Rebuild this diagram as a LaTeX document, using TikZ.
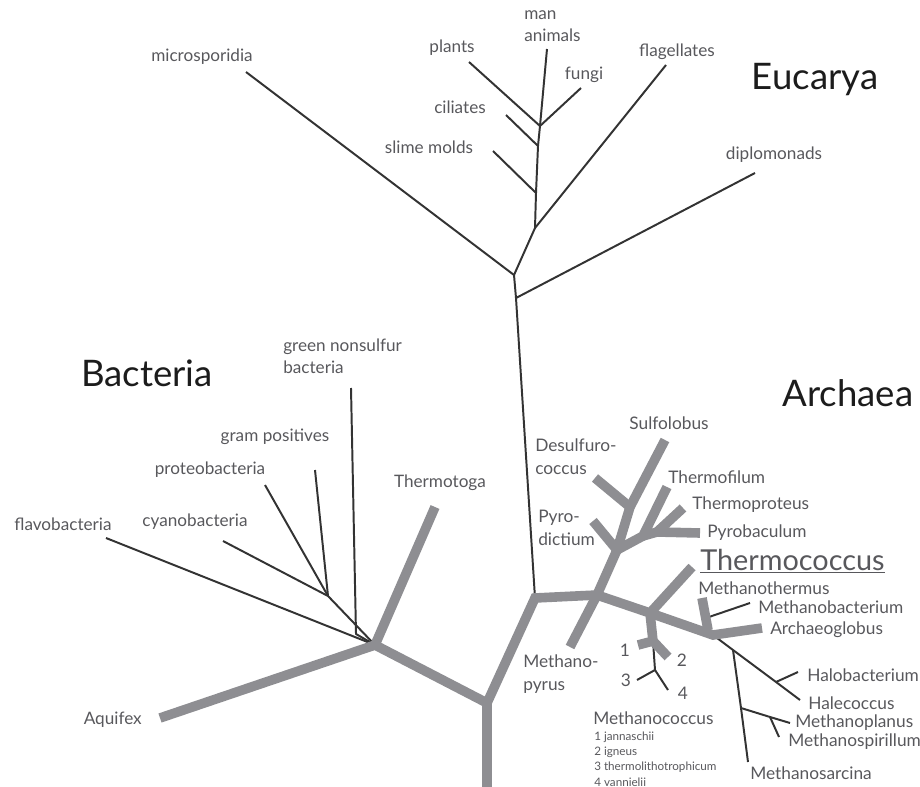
\documentclass[tikz,border=0pt]{standalone}
\usepackage{fontspec}
\setmainfont{Lato}
\usetikzlibrary{positioning}
\usepackage{xcolor}
\definecolor{treeGray}{HTML}{8E8E92}
\definecolor{lineDark}{HTML}{333333}
\definecolor{labelGray}{HTML}{58585C}
\definecolor{domainInk}{HTML}{1C1C1C}
\tikzset{
graybr/.style={draw=treeGray, line width=2.4mm},
thinbr/.style={draw=lineDark, line width=1.4pt, line join=round},
taxon/.style={text=labelGray, inner sep=0pt, font=\fontsize{12.2}{14.6}\selectfont},
taxontwo/.style={taxon, anchor=west, align=left, font=\fontsize{12.2}{15.5}\selectfont},
archtaxon/.style={taxon, font=\fontsize{12.3}{14.8}\selectfont},
archtwo/.style={archtaxon, anchor=west, align=left, font=\fontsize{12.3}{16.5}\selectfont},
domainname/.style={text=domainInk, inner sep=0pt, font=\fontsize{26}{30}\selectfont},
spnote/.style={taxon, anchor=west, font=\fontsize{8.3}{10}\selectfont}
}

\begin{document}
\begin{tikzpicture}[x=0.025cm,y=-0.025cm]
\useasboundingbox (0,0) rectangle (920,787);

% junctions of the tree
\coordinate (root) at (487,703);
\coordinate (rootbot) at (487,795);
\coordinate (bac) at (375,645);
\coordinate (arc) at (535,598);
\coordinate (euk0) at (516,298);
\coordinate (euk1) at (514,275);
\coordinate (euk2) at (535,228);
\coordinate (euk3) at (536,193);
\coordinate (euk4) at (538,146);
\coordinate (euk5) at (540,126);
\coordinate (bac1) at (328,596);
\coordinate (gns) at (356,634);
\coordinate (cren) at (597,595);
\coordinate (cren1) at (617,550);
\coordinate (cren2) at (630,507);
\coordinate (cren3) at (643,536);
\coordinate (cren4) at (657,532);
\coordinate (eury) at (650,613);
\coordinate (mcoc) at (653,641);
\coordinate (mcoc34) at (655,670);
\coordinate (mthm) at (708,630);
\coordinate (mthb) at (706,618);
\coordinate (halo) at (713,635);
\coordinate (msar) at (733,650);
\coordinate (hbac) at (776,682);
\coordinate (mpla) at (741,708);
\coordinate (mspi) at (770,717);

% tips
\coordinate (tMan) at (547,49);
\coordinate (tPlants) at (469,62);
\coordinate (tFungi) at (581,88);
\coordinate (tCiliates) at (506,115);
\coordinate (tSlime) at (493,151);
\coordinate (tFlag) at (666,65);
\coordinate (tMicro) at (246,72);
\coordinate (tDiplo) at (755,173);
\coordinate (tGns) at (351,388);
\coordinate (tGram) at (315,470);
\coordinate (tProteo) at (265,485);
\coordinate (tCyano) at (223,541);
\coordinate (tFlavo) at (106,538);
\coordinate (tThtg) at (435,507);
\coordinate (tAquifex) at (160,718);
\coordinate (tSulf) at (665,440);
\coordinate (tDesulf) at (595,478);
\coordinate (tPyrod) at (593,521);
\coordinate (tThfil) at (667,487);
\coordinate (tThprot) at (683,508);
\coordinate (tPyrob) at (700,533);
\coordinate (tThcoc) at (692,567);
\coordinate (tMpyr) at (570,647);
\coordinate (tM1) at (638,645);
\coordinate (tM2) at (668,657);
\coordinate (tM3) at (637,680);
\coordinate (tM4) at (668,690);
\coordinate (tMthm) at (702,598);
\coordinate (tMthb) at (750,603);
\coordinate (tArcg) at (762,628);
\coordinate (tHbac) at (798,672);
\coordinate (tHcoc) at (800,700);
\coordinate (tMpla) at (790,723);
\coordinate (tMspi) at (779,737);
\coordinate (tMsar) at (748,762);

% thin branches
\draw[thinbr] (arc) -- (euk0) -- (euk1) -- (euk2) -- (euk3) -- (euk4) -- (euk5) -- (tMan);
\draw[thinbr] (euk0) -- (tDiplo);
\draw[thinbr] (euk1) -- (tMicro);
\draw[thinbr] (euk2) -- (tFlag);
\draw[thinbr] (euk3) -- (tSlime);
\draw[thinbr] (euk4) -- (tCiliates);
\draw[thinbr] (euk5) -- (tPlants);
\draw[thinbr] (euk5) -- (tFungi);
\draw[thinbr] (tFlavo) -- (bac);
\draw[thinbr] (tGns) -- (gns) -- (bac);
\draw[thinbr] (tCyano) -- (bac1) -- (bac);
\draw[thinbr] (tProteo) -- (bac1);
\draw[thinbr] (tGram) -- (bac1);
\draw[thinbr] (mcoc) -- (mcoc34) -- (tM3);
\draw[thinbr] (mcoc34) -- (tM4);
\draw[thinbr] (mthb) -- (tMthb);
\draw[thinbr] (halo) -- (msar) -- (hbac) -- (tHcoc);
\draw[thinbr] (hbac) -- (tHbac);
\draw[thinbr] (msar) -- (mpla) -- (tMsar);
\draw[thinbr] (mpla) -- (mspi) -- (tMpla);
\draw[thinbr] (mspi) -- (tMspi);

% thick gray branches
\draw[graybr] (tAquifex) -- (bac) -- (root) -- (arc) -- (cren) -- (eury) -- (halo) -- (tArcg);
\draw[graybr] (root) -- (rootbot);
\draw[graybr] (bac) -- (tThtg);
\draw[graybr] (cren) -- (tMpyr);
\draw[graybr] (cren) -- (cren1) -- (cren2) -- (tSulf);
\draw[graybr] (cren2) -- (tDesulf);
\draw[graybr] (cren1) -- (tPyrod);
\draw[graybr] (cren1) -- (cren3) -- (tThfil);
\draw[graybr] (cren3) -- (cren4) -- (tPyrob);
\draw[graybr] (cren4) -- (tThprot);
\draw[graybr] (eury) -- (tThcoc);
\draw[graybr] (eury) -- (mcoc) -- (tM2);
\draw[graybr] (mcoc) -- (tM1);
\draw[graybr] (tMthm) -- (mthm);
\foreach \j in {bac,root,arc,cren,cren1,cren2,cren3,cren4,eury,mcoc,halo}
  \fill[treeGray] (\j) circle (1.2mm);

% domain names
\node[domainname] (eucarya) at (815,80) {Eucarya};
\node[domainname] (bacteria) at (147,373) {Bacteria};
\node[domainname] (archaea) at (848,393) {Archaea};

% eucarya labels
\node[taxontwo] (lMan) at (524,26) {man\\animals};
\node[taxon] (lPlants) at (452,48) {plants};
\node[taxon] (lFungi) at (584,75) {fungi};
\node[taxon] (lCiliates) at (460,107) {ciliates};
\node[taxon] (lSlime) at (429,147) {slime molds};
\node[taxon] (lFlag) at (677,52) {flagellates};
\node[taxon] (lMicro) at (202,57) {microsporidia};
\node[taxon] (lDiplo) at (774,155) {diplomonads};

% bacteria labels
\node[taxontwo] (lGns) at (283,356) {green nonsulfur\\bacteria};
\node[taxon] (lGram) at (275,437) {gram positives};
\node[taxon] (lProteo) at (210,470) {proteobacteria};
\node[taxon] (lCyano) at (195,522) {cyanobacteria};
\node[taxon] (lFlavo) at (63,524) {flavobacteria};
\node[taxon] (lThtg) at (440,483) {Thermotoga};
\node[taxon, anchor=east] (lAquifex) at (142,720) {Aquifex};

% archaea labels
\node[archtaxon] (lSulf) at (669,423) {Sulfolobus};
\node[archtwo] (lDesulf) at (535,457) {Desulfuro-\\coccus};
\node[archtwo] (lPyrod) at (538,528) {Pyro-\\dictium};
\node[archtaxon, anchor=west] (lThfil) at (668,477) {Thermofilum};
\node[archtaxon, anchor=west] (lThprot) at (692,505) {Thermoproteus};
\node[archtaxon, anchor=west] (lPyrob) at (707,533) {Pyrobaculum};
\node[taxon, anchor=west, font=\fontsize{20.5}{24}\selectfont] (lThcoc) at (700,561) {\underline{Thermococcus}};
\node[archtaxon, anchor=west] (lMthm) at (698,588) {Methanothermus};
\node[archtaxon, anchor=west] (lMthb) at (758,607) {Methanobacterium};
\node[archtaxon, anchor=west] (lArcg) at (770,630) {Archaeoglobus};
\node[archtwo] (lMpyr) at (523,674) {Methano-\\pyrus};
\node[archtaxon] (l1) at (625,650) {1};
\node[archtaxon] (l2) at (682,660) {2};
\node[archtaxon] (l3) at (626,680) {3};
\node[archtaxon] (l4) at (683,693) {4};
\node[archtaxon, anchor=west] (lMcoc) at (593,718) {Methanococcus};
\foreach \i/\sp in {1/jannaschii,2/igneus,3/thermolithotrophicum,4/vannielii}
  \node[spnote] (sp\i) at (594,722+15*\i) {\i\ \sp};
\node[archtaxon, anchor=west] (lHbac) at (807,675) {Halobacterium};
\node[archtaxon, anchor=west] (lHcoc) at (808,703) {Halecoccus};
\node[archtaxon, anchor=west] (lMpla) at (795,723) {Methanoplanus};
\node[archtaxon, anchor=west] (lMspi) at (788,742) {Methanospirillum};
\node[archtaxon, anchor=west] (lMsar) at (750,773) {Methanosarcina};
\end{tikzpicture}
\end{document}
